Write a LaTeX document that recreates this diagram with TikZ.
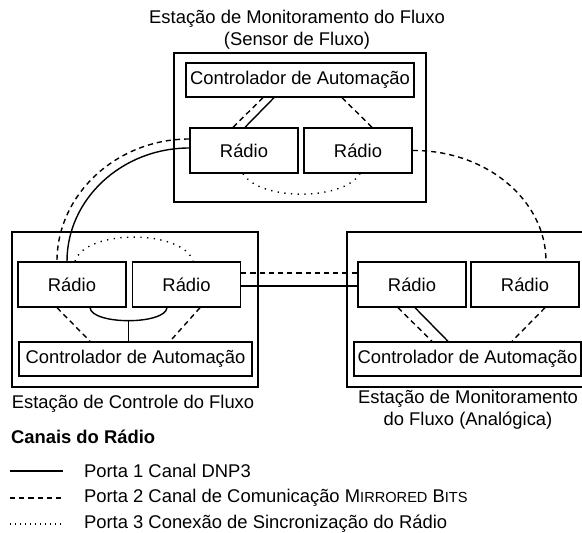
\documentclass[tikz,border=0pt]{standalone}
\usepackage{fontspec}
\setmainfont{Liberation Sans}
\usetikzlibrary{calc}
\newcommand{\fakesc}[2]{#1{\fontsize{7.3}{9}\selectfont #2}}
\tikzset{
  radiobox/.style={draw,line width=.7pt,minimum width=54pt,minimum height=22.5pt,inner sep=0pt},
  ctrlbox/.style={draw,line width=.7pt,minimum height=17pt,inner sep=0pt},
  frame/.style={line width=.7pt},
  dnp/.style={line width=.7pt},
  mb/.style={line width=.7pt,dash pattern=on 2.6pt off 2pt},
  sync/.style={line width=.7pt,dash pattern=on .65pt off 2.7pt},
}
\begin{document}
\begin{tikzpicture}[x=.5pt,y=-.5pt,font=\fontsize{9.2}{11}\selectfont]
\useasboundingbox (0,0) rectangle (582,533);

% estacao de monitoramento (sensor)
\draw[frame] (174,53) rectangle (426,202);
\node[align=center] (ttitle) at (297,29.5) {Estação de Monitoramento do Fluxo\\(Sensor de Fluxo)};
\node[ctrlbox,minimum width=114pt] (tctrl) at (300,80) {Controlador de Automação};
\node[radiobox] (tra) at (244,150.5) {Rádio};
\node[radiobox] (trb) at (358,150.5) {Rádio};
\draw[mb] ($(tctrl.south)+(-37,0)$) -- ($(tra.north)+(-11,0)$);
\draw[dnp] ($(tctrl.south)+(-26,0)$) -- ($(tra.north)+(1,0)$);
\draw[mb] ($(tctrl.south)+(42,0)$) -- ($(trb.north)+(14,0)$);
\draw[sync] ($(tra.south)+(-1,0)$) .. controls (260,201) and (343,201) .. ($(trb.south)+(2,0)$);

% estacao de controle
\draw[frame] (12,232) rectangle (258,387);
\node (llabel) at (133,404) {Estação de Controle do Fluxo};
\node[radiobox] (lra) at (72,284.5) {Rádio};
\node[radiobox] (lrb) at (186.5,284.5) {Rádio};
\node[ctrlbox,minimum width=116.5pt] (lctrl) at (135.5,359) {Controlador de Automação};
\draw[sync] ($(lra.north)+(3,0)$) .. controls (85,229) and (183,229) .. ($(lrb.north)+(6.5,0)$);
\draw[dnp] ($(lra.south)+(18,0)$) .. controls (92,325) and (165,325) .. ($(lrb.south)+(-19.5,0)$);
\coordinate (lmid) at (128.5,320.5);
\draw[dnp] (lmid) -- (lmid |- lctrl.north);
\draw[mb] ($(lra.south)+(-15,0)$) -- ($(lctrl.north)+(-45.5,0)$);
\draw[mb] ($(lrb.south)+(13.5,0)$) -- ($(lctrl.north)+(34.5,0)$);

% estacao de monitoramento (analogica)
\draw[frame] (582,232) -- (347,232) -- (347,387) -- (582,387);
\node[align=center] (rlabel) at (468,410) {Estação de Monitoramento\\do Fluxo (Analógica)};
\node[radiobox] (rra) at (412,284.5) {Rádio};
\node[radiobox] (rrb) at (525,284.5) {Rádio};
\node[ctrlbox,minimum width=113.5pt] (rctrl) at (467.5,359) {Controlador de Automação};
\draw[mb] ($(rra.south)+(-14,0)$) -- ($(rctrl.north)+(-35.5,0)$);
\draw[dnp] ($(rra.south)+(3,0)$) -- ($(rctrl.north)+(-19.5,0)$);
\draw[mb] ($(rrb.south)+(20,0)$) -- ($(rctrl.north)+(44.5,0)$);

% enlaces entre estacoes
\draw[mb] ($(lrb.east)+(0,-11.5)$) -- ($(rra.west)+(0,-11.5)$);
\draw[dnp] ($(lrb.east)+(0,1.5)$) -- ($(rra.west)+(0,1.5)$);
\draw[mb] ($(tra.west)+(0,-11.5)$) .. controls (117,139) and (57,194) .. ($(lra.north)+(-15,0)$);
\draw[dnp] ($(tra.west)+(0,-2.5)$) .. controls (122,148) and (67,199) .. ($(lra.north)+(-5,0)$);
\draw[mb] (trb.east) .. controls (486,150) and (546,200) .. ($(rrb.north)+(21,0)$);

% legenda
\node[anchor=west,font=\fontsize{9.2}{11}\selectfont\bfseries] (legtitle) at (4,437) {Canais do Rádio};
\node[anchor=west] (leg1) at (77,471) {Porta 1 Canal DNP3};
\node[anchor=west] (leg2) at (77,498) {Porta 2 Canal de Comunicação \fakesc{M}{IRRORED} \fakesc{B}{ITS}};
\node[anchor=west] (leg3) at (77,524) {Porta 3 Conexão de Sincronização do Rádio};
\draw[dnp] (10,471) -- (63,471);
\draw[mb] (10,498) -- (63,498);
\draw[sync,dash pattern=on .5pt off 2pt] (10,524) -- (63,524);
\end{tikzpicture}
\end{document}
